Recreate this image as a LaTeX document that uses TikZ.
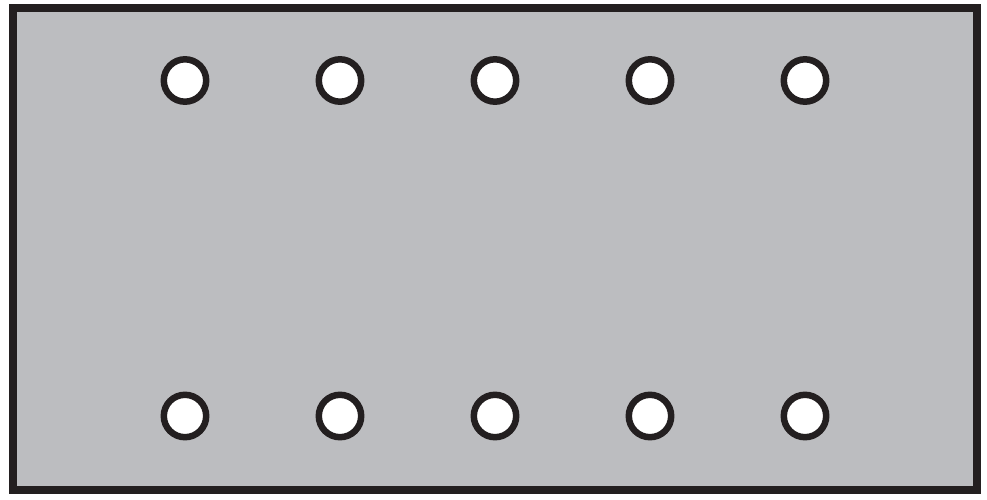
\documentclass[tikz,border=0pt]{standalone}
\usepackage{tikz}
\usepackage{xcolor}

\definecolor{plategray}{HTML}{BCBDC0}
\definecolor{edgeblack}{HTML}{231F20}

\begin{document}
\begin{tikzpicture}[x=1pt,y=-1pt,cap=round]
            % fix the size of the page
            \useasboundingbox (0,0) rectangle (987,500);

            % draw the plate
            \draw[edgeblack, fill=plategray, line width=8pt, line join=miter] (12.5,8) rectangle (977,490);

            % draw the holes
            \foreach \x in {185,340,495,650,805} {
                \draw[edgeblack, fill=white, line width=6.5pt] (\x,80.5) circle(21.2);
                \draw[edgeblack, fill=white, line width=6.5pt] (\x,416) circle(21.2);
            }

        \end{tikzpicture}
\end{document}
